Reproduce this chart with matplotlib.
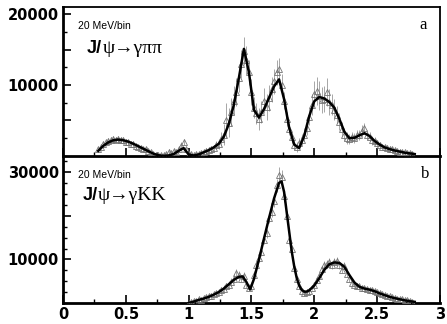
import numpy as np
import matplotlib
matplotlib.use("Agg")
import matplotlib.pyplot as plt
from matplotlib.ticker import MultipleLocator, FixedLocator, FixedFormatter

# ---- J/psi -> gamma pi pi, 20 MeV bins starting at 0.28 GeV ----
pipi_start = 0.28
pipi_counts = [
    900, 1300, 1700, 1900, 2100, 2300, 2400, 2300, 2400, 2200,
    2200, 2000, 1900, 1700, 1700, 1400, 1300, 1100, 1000, 900,
    700, 500, 300, 150, 100, 50,
    100, 300, 600, 400, 700, 500, 900, 1400, 2000, 900,
    300, 200, 100, 300, 200, 400, 500, 700, 800, 1000, 1100, 1500, 1700,
    2400, 3000, 5000, 4700, 6200, 7800, 9000, 11000, 13000, 14800,
    13500, 11800, 9000, 6800, 6000, 5200,
    6200, 7800, 6900, 8200, 9400, 10500, 11800, 12300, 10000, 7800, 5200, 3800,
    2600, 1500, 1200, 1800, 2300, 3000,
    4000, 5500, 7200, 8700, 9200, 8500, 7900, 8000, 9000, 7600, 7200, 6500,
    5800, 4800, 3800,
    3000, 2500, 2400, 2600, 2500, 2900, 3000, 3500, 3900, 3000, 2700, 2200,
    2100, 1800,
    1500, 1300, 1200, 1100, 1000, 900, 800, 700, 600, 550, 500, 400, 350, 300,
]
pipi_err = [
    300, 350, 350, 400, 400, 400, 450, 400, 400, 400,
    400, 400, 350, 350, 350, 300, 300, 300, 300, 300,
    250, 250, 250, 200, 200, 200,
    250, 300, 300, 300, 300, 350, 400, 500, 400, 300,
    250, 250, 250, 300, 300, 300, 350, 400, 400, 450, 500, 600, 700,
    1000, 1500, 2500, 2000, 2000, 2000, 2000, 2000, 2000, 2000,
    2000, 1800, 1800, 1500, 1500, 1500,
    1500, 1800, 1800, 1800, 1800, 1800, 1800, 1500, 1500, 1200, 1000, 900,
    800, 700, 700, 700, 800, 900,
    1000, 1200, 1500, 1800, 2000, 2000, 1800, 1800, 2000, 1800, 1500, 1500,
    1200, 1200, 1000,
    900, 800, 700, 700, 700, 700, 700, 800, 800, 700, 600, 600, 500, 500,
    450, 400, 400, 400, 350, 350, 300, 300, 300, 300, 250, 250, 250, 250,
]
pipi_fit_x = [0.28, 0.32, 0.36, 0.40, 0.44, 0.48, 0.52, 0.56, 0.60, 0.64,
              0.68, 0.72, 0.76, 0.80, 0.84, 0.88, 0.92, 0.96, 1.00, 1.04,
              1.08, 1.12, 1.16, 1.20, 1.24, 1.28, 1.32, 1.36, 1.40, 1.44,
              1.48, 1.52, 1.56, 1.60, 1.64, 1.68, 1.72, 1.76, 1.80, 1.84,
              1.88, 1.92, 1.96, 2.00, 2.04, 2.08, 2.12, 2.16, 2.20, 2.24,
              2.28, 2.32, 2.36, 2.40, 2.44, 2.48, 2.52, 2.56, 2.60, 2.64,
              2.68, 2.72, 2.76, 2.80]
pipi_fit_y = [700, 1400, 1900, 2200, 2300, 2200, 2000, 1700, 1350, 1000,
              650, 300, 80, 0, 50, 250, 700, 1100, 200, 50,
              200, 500, 800, 1200, 1700, 2700, 4500, 7200, 11000, 15100,
              11800, 6500, 5400, 6600, 8200, 9800, 10800, 8000, 4000, 1600,
              1100, 2800, 5600, 7700, 8300, 8100, 7600, 6800, 5200, 3400,
              2500, 2550, 2900, 3200, 2800, 2100, 1600, 1200, 950, 750,
              600, 450, 350, 250]

# ---- J/psi -> gamma K K, 20 MeV bins starting at 1.00 GeV ----
kk_start = 1.00
kk_counts = [
    100, 300, 400, 500, 800, 700, 1100, 1300, 1500, 1700,
    2000, 2200, 2600, 2900, 3300, 3800, 4200, 4800, 5600, 6800,
    6400, 5600, 6300, 4200, 3500, 4000, 6500, 8800, 10300, 11800,
    14500, 16000, 19500, 21000, 23500, 27000, 29500, 29000, 24500, 20000,
    14500, 12500, 8000, 5500, 3800, 2800, 2300, 2600, 2800, 3500,
    4200, 5300, 6300, 7800, 8800, 9000, 9500, 8800, 9500, 9600,
    8800, 7600, 8500, 6600, 5600, 4500, 4200, 4000, 3800, 3400,
    3500, 3200, 3000, 2900, 2700, 2400, 2200, 2000, 1800, 1600,
    1500, 1300, 1200, 1000, 900, 800, 700, 600, 400, 300,
]
kk_err = [
    300, 300, 350, 400, 400, 400, 450, 450, 500, 500,
    600, 600, 700, 700, 800, 800, 900, 900, 1000, 1000,
    1000, 900, 900, 800, 800, 800, 800, 900, 900, 900,
    1000, 1000, 1200, 1200, 1400, 1500, 1800, 1500, 1400, 1200,
    1000, 900, 800, 700, 600, 600, 600, 600, 600, 600,
    700, 700, 800, 800, 800, 900, 900, 900, 900, 900,
    900, 800, 800, 700, 700, 600, 600, 600, 600, 600,
    500, 500, 500, 500, 500, 450, 450, 400, 400, 400,
    400, 350, 350, 300, 300, 300, 250, 250, 200, 200,
]
kk_fit_x = [1.00, 1.04, 1.08, 1.12, 1.16, 1.20, 1.24, 1.28, 1.32, 1.36,
            1.40, 1.43, 1.46, 1.49, 1.52, 1.56, 1.60, 1.64, 1.68, 1.72,
            1.74, 1.76, 1.78, 1.80, 1.82, 1.84, 1.86, 1.88, 1.90, 1.92,
            1.94, 1.96, 2.00, 2.04, 2.08, 2.12, 2.16, 2.20, 2.24, 2.28,
            2.32, 2.36, 2.40, 2.44, 2.48, 2.52, 2.56, 2.60, 2.64, 2.68,
            2.72, 2.76, 2.80]
kk_fit_y = [0, 300, 700, 1000, 1400, 1900, 2500, 3300, 4300, 5300,
            6000, 6100, 4800, 3100, 5500, 10000, 14800, 19500, 24000, 27600,
            27900, 25500, 21000, 16500, 12000, 8500, 5800, 4000, 3000, 2600,
            2600, 2900, 4000, 5700, 7600, 8900, 9300, 9200, 8300, 6400,
            4700, 3700, 3300, 3050, 2700, 2200, 1800, 1400, 1100, 850,
            600, 400, 250]

bin_width = 0.02
pipi_x = pipi_start + bin_width * np.arange(len(pipi_counts))
kk_x = kk_start + bin_width * np.arange(len(kk_counts))

tick_font = {'family': 'DejaVu Sans', 'weight': 'bold', 'size': 10.5}

fig = plt.figure(figsize=(4.47, 3.24), dpi=100)
ax1 = fig.add_axes([0.141, 0.519, 0.843, 0.459])
ax2 = fig.add_axes([0.141, 0.065, 0.843, 0.450], sharex=ax1)


def draw_panel(ax, x, counts, err, fit_x, fit_y):
    ax.errorbar(x, counts, yerr=err, fmt='none', ecolor='0.6',
                elinewidth=0.6, capsize=0, zorder=2)
    ax.plot(x, counts, '^', mfc='none', mec='0.45', ms=4, mew=0.6, zorder=3)
    ax.plot(fit_x, fit_y, color='black', lw=1.8, zorder=4)
    for side in ['left', 'bottom']:
        ax.spines[side].set_linewidth(2)
    for side in ['top', 'right']:
        ax.spines[side].set_linewidth(1.3)
    ax.tick_params(which='both', direction='in', top=False, right=False)
    ax.tick_params(which='major', length=6, width=1.2, pad=3)
    ax.tick_params(which='minor', length=3, width=1.0)
    ax.yaxis.set_minor_locator(MultipleLocator(2500))


draw_panel(ax1, pipi_x, pipi_counts, pipi_err, pipi_fit_x, pipi_fit_y)
draw_panel(ax2, kk_x, kk_counts, kk_err, kk_fit_x, kk_fit_y)

ax1.set_xlim(0, 3)
ax1.xaxis.set_major_locator(MultipleLocator(0.5))
ax1.xaxis.set_minor_locator(MultipleLocator(0.25))
ax1.set_ylim(0, 21000)
ax1.yaxis.set_major_locator(FixedLocator([5000, 10000, 15000, 20000]))
ax1.yaxis.set_major_formatter(FixedFormatter(['', '10000', '', '20000']))
ax2.set_ylim(0, 33500)
ax2.yaxis.set_major_locator(FixedLocator([10000, 20000, 30000]))
ax2.yaxis.set_major_formatter(FixedFormatter(['10000', '', '30000']))
plt.setp(ax1.get_xticklabels(), visible=False)
ax2.set_xticks([0, 0.5, 1, 1.5, 2, 2.5, 3])
ax2.set_xticklabels(['0', '0.5', '1', '1.5', '2', '2.5', '3'])
for ax in (ax1, ax2):
    for lab in ax.get_yticklabels() + ax.get_xticklabels():
        lab.set_fontproperties(tick_font)


def channel_label(ax, x, y, rest):
    t = ax.text(x, y, 'J/', transform=ax.transAxes, ha='left', va='center',
                family='Liberation Sans', weight='bold', fontsize=13)
    ax.annotate(rest, xy=(1, 0.5), xycoords=t, ha='left', va='center',
                family='Liberation Serif', fontsize=14)


ax1.text(0.04, 0.87, '20 MeV/bin', transform=ax1.transAxes, ha='left',
         va='center', family='Liberation Sans', fontsize=7.5)
channel_label(ax1, 0.064, 0.72, 'ψ→γππ')
ax1.text(0.955, 0.88, 'a', transform=ax1.transAxes, ha='center',
         va='center', family='Liberation Serif', fontsize=12)

ax2.text(0.04, 0.877, '20 MeV/bin', transform=ax2.transAxes, ha='left',
         va='center', family='Liberation Sans', fontsize=7.5)
channel_label(ax2, 0.053, 0.74, 'ψ→γKK')
ax2.text(0.96, 0.884, 'b', transform=ax2.transAxes, ha='center',
         va='center', family='Liberation Serif', fontsize=12)

fig.savefig('out.png', dpi=100)
